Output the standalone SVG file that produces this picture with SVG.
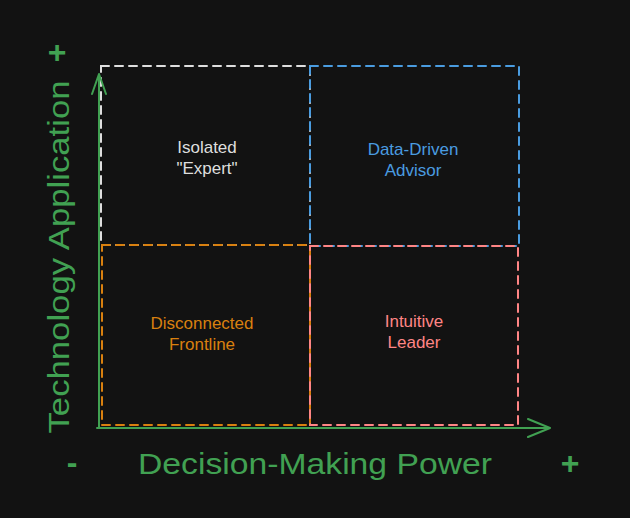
<svg xmlns="http://www.w3.org/2000/svg" width="630" height="518" viewBox="0 0 630 518">
<style>
.q{fill:none;stroke-width:2;stroke-dasharray:8 6;stroke-linecap:round}
.t{font-family:"Liberation Sans",Arial,sans-serif;font-size:17px;text-anchor:middle}
.ax{font-family:"Liberation Sans",Arial,sans-serif;font-size:29px;fill:#41a152;text-anchor:middle}
.sg{font-family:"Liberation Sans",Arial,sans-serif;font-size:32px;font-weight:bold;fill:#41a152;text-anchor:middle}
.axis{fill:none;stroke:#41a152;stroke-width:2;stroke-linecap:round;stroke-linejoin:round}
</style>
<rect width="630" height="518" fill="#121212"/>
<g id="isolated-expert">
<rect class="q" x="101" y="66" width="209" height="179" stroke="#dedede"/>
<text class="t" fill="#dedede"><tspan x="207" y="153">Isolated</tspan><tspan x="207" y="174">"Expert"</tspan></text>
</g>
<g id="data-driven-advisor">
<rect class="q" x="310" y="66" width="209" height="180" stroke="#4a9ce0"/>
<text class="t" fill="#4a9ce0"><tspan x="413" y="155">Data-Driven</tspan><tspan x="413" y="176">Advisor</tspan></text>
</g>
<g id="disconnected-frontline">
<rect class="q" x="102" y="245" width="208" height="180" stroke="#d9800f"/>
<text class="t" fill="#d9800f"><tspan x="202" y="329">Disconnected</tspan><tspan x="202" y="350">Frontline</tspan></text>
</g>
<g id="intuitive-leader">
<rect class="q" x="310" y="246" width="208" height="179" stroke="#ff8585"/>
<text class="t" fill="#ff8585"><tspan x="414" y="327">Intuitive</tspan><tspan x="414" y="348">Leader</tspan></text>
</g>
<g id="connectors">
<path class="axis" d="M99 428 L99 74 M92 94 L99 74 L106 94"/>
<path class="axis" d="M97 428 L550 428 M528 419 L550 428 L528 437"/>
</g>
<g id="labels">
<text class="ax" x="315" y="474" textLength="354" lengthAdjust="spacingAndGlyphs">Decision-Making Power</text>
<text class="ax" transform="translate(69 257) rotate(-90)" x="0" y="0" textLength="353" lengthAdjust="spacingAndGlyphs">Technology Application</text>
<text class="sg" x="57" y="63">+</text>
<text class="sg" x="72" y="473">-</text>
<text class="sg" x="570" y="474">+</text>
</g>
</svg>
